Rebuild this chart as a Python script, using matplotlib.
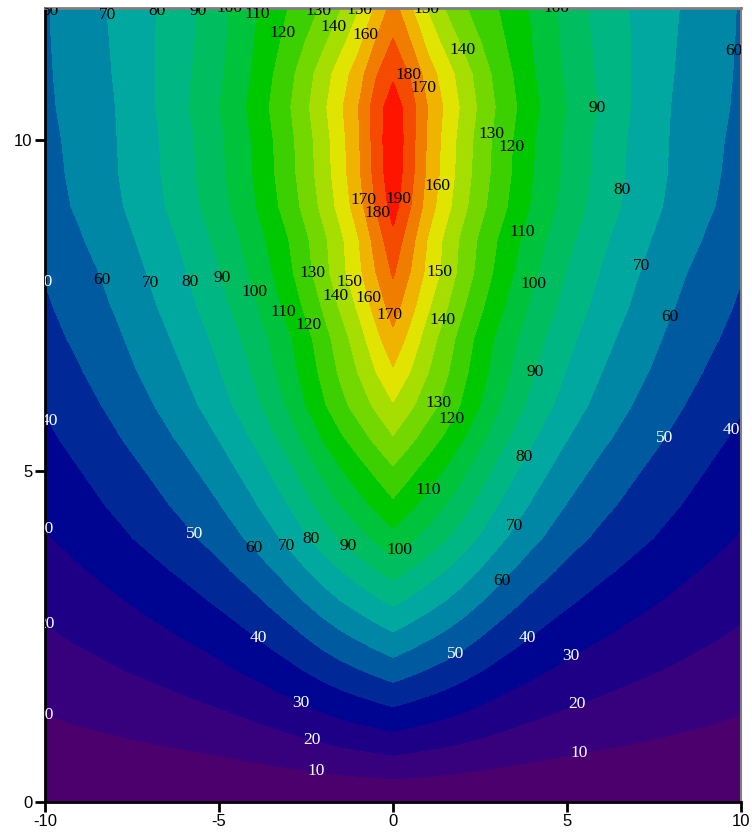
import numpy as np
import matplotlib
matplotlib.use("Agg")
import matplotlib.pyplot as plt

plt.rcParams['axes.unicode_minus'] = False

# ---- values: right half (x >= 0); the field is mirror-symmetric ----
x_half = [0, 0.5, 1, 1.5, 2, 2.5, 3, 3.5, 4, 5, 6, 7, 8, 9, 10]
y_vals = [0, 0.5, 1, 1.5, 2, 2.5, 3, 3.5, 4, 4.5, 5, 5.5, 6, 6.5,
          7, 7.5, 8, 8.5, 9, 9.5, 10, 10.5, 11, 11.5, 12]
z_rows = [
    [0, 0, 0, 0, 0, 0, 0, 0, 0, 0, 0, 0, 0, 0, 0],
    [14, 13.3, 12.6, 11.9, 11.1, 10.3, 9.5, 8.8, 8.2, 7.1, 6.2, 5.5, 4.9, 4.3, 3.8],
    [28, 26.6, 25.2, 23.8, 22.3, 20.6, 19.0, 17.6, 16.3, 14.1, 12.5, 11.1, 9.8, 8.7, 7.6],
    [41.5, 39.4, 37.4, 35.3, 33.0, 30.6, 28.2, 26.1, 24.2, 21.0, 18.5, 16.4, 14.5, 12.9, 11.3],
    [55, 52.3, 49.5, 46.8, 43.7, 40.5, 37.4, 34.7, 32.1, 27.8, 24.5, 21.7, 19.3, 17.1, 15.0],
    [68, 64.6, 61.2, 57.8, 54.1, 50.1, 46.2, 42.8, 39.6, 34.3, 30.3, 26.9, 23.8, 21.1, 18.6],
    [81, 77.0, 72.9, 68.9, 64.4, 59.7, 55.1, 51.0, 47.2, 40.9, 36.0, 32.0, 28.4, 25.1, 22.1],
    [94, 89.3, 84.6, 79.9, 74.7, 69.3, 63.9, 59.2, 54.8, 47.5, 41.8, 37.1, 32.9, 29.1, 25.7],
    [107, 101.7, 96.3, 91.0, 85.1, 78.9, 72.8, 67.4, 62.4, 54.0, 47.6, 42.3, 37.5, 33.2, 29.2],
    [118, 112.1, 106.2, 100.3, 93.8, 87.0, 80.2, 74.3, 68.8, 59.6, 52.5, 46.6, 41.3, 36.6, 32.2],
    [128, 121.6, 115.2, 108.8, 101.8, 94.3, 87.0, 80.6, 74.6, 64.6, 57.0, 50.6, 44.8, 39.7, 34.9],
    [139, 132.1, 125.1, 118.2, 110.5, 102.4, 94.5, 87.6, 81.0, 70.2, 61.9, 54.9, 48.7, 43.1, 37.9],
    [149, 141.6, 134.1, 126.7, 118.5, 109.8, 101.3, 93.9, 86.9, 75.2, 66.3, 58.9, 52.2, 46.2, 40.7],
    [158.5, 149.5, 140.1, 131.6, 122.5, 113.8, 105.2, 97.8, 90.8, 79.3, 69.9, 62.3, 55.3, 49.3, 43.7],
    [167, 156.3, 144.8, 135.3, 125.4, 116.6, 108.2, 100.9, 94.0, 82.5, 73.0, 65.1, 57.9, 51.9, 46.6],
    [174.5, 163.3, 151.3, 141.3, 131.0, 121.8, 113.1, 105.4, 98.2, 86.2, 76.3, 68.1, 60.6, 54.3, 48.7],
    [181, 169.4, 156.9, 146.6, 135.9, 126.3, 117.3, 109.3, 101.9, 89.4, 79.1, 70.6, 62.8, 56.3, 50.5],
    [187, 173.5, 159.0, 147.7, 137.4, 128.1, 119.7, 112.2, 104.7, 92.4, 81.7, 72.9, 65.5, 59.1, 53.9],
    [194, 180.0, 164.9, 153.3, 142.6, 132.9, 124.2, 116.4, 108.6, 95.8, 84.8, 75.7, 67.9, 61.3, 55.9],
    [197, 182.8, 167.5, 155.6, 144.8, 134.9, 126.1, 118.2, 110.3, 97.3, 86.1, 76.8, 69.0, 62.3, 56.7],
    [198, 183.7, 168.3, 156.4, 145.5, 135.6, 126.7, 118.8, 110.9, 97.8, 86.5, 77.2, 69.3, 62.6, 57.5],
    [196, 184.2, 169.3, 158.2, 147.6, 137.8, 128.6, 120.7, 112.7, 99.6, 88.4, 78.0, 69.7, 63.6, 58.2],
    [188, 178.6, 164.9, 154.9, 145.0, 135.4, 126.5, 118.8, 110.9, 98.1, 87.6, 78.4, 70.4, 63.9, 58.7],
    [180.5, 169.7, 156.3, 146.6, 137.7, 130.0, 122.9, 116.1, 109.6, 96.9, 86.6, 78.4, 70.9, 64.2, 59.0],
    [174, 161.0, 148.8, 139.2, 131.4, 125.3, 120.1, 114.0, 108.8, 96.2, 86.0, 78.4, 71.5, 64.6, 59.2],
]

levels = list(range(0, 210, 10))
x_ticks = [-10, -5, 0, 5, 10]
y_ticks = [0, 5, 10]

band_colors = [
    '#4B006E', '#37007D', '#1E0087', '#000591', '#002896',
    '#005AA0', '#0087A5', '#00A8A0', '#00B682', '#00BE5F',
    '#00C33C', '#00C800', '#3CD000', '#73D700', '#A5DE00',
    '#E1E400', '#F0B400', '#F07D00', '#F54B00', '#FF1400',
]

# approximate places of the contour labels (matplotlib snaps them onto the contours)
label_spots = {
    10: [(-2.2, 0.47), (5.35, 0.76), (-10, 1.3)],
    20: [(-2.3, 0.98), (5.3, 1.47), (-10, 2.68)],
    30: [(-2.6, 1.54), (5.1, 2.2), (-10, 4.16)],
    40: [(-3.9, 2.45), (3.9, 2.45), (9.8, 5.6), (-10, 5.72)],
    50: [(-5.7, 4.04), (1.75, 2.27), (7.8, 5.5), (-10, 7.9)],
    60: [(-4.0, 3.84), (3.1, 3.35), (7.9, 7.35), (-8.3, 7.9), (9.8, 11.35), (-9.9, 11.95)],
    70: [(-3.0, 3.9), (3.4, 4.2), (7.1, 8.1), (-6.95, 7.85), (-8.2, 11.9)],
    80: [(-2.2, 4.04), (3.8, 5.2), (6.47, 9.26), (-5.85, 7.85), (-6.84, 11.95)],
    90: [(-1.25, 3.9), (4.1, 6.5), (5.7, 10.5), (-5.0, 7.9), (-5.63, 11.95)],
    100: [(0.2, 3.8), (4.2, 7.8), (-4.0, 7.7), (-4.6, 12.0), (4.7, 12.0)],
    110: [(1.0, 4.72), (3.8, 8.6), (-3.2, 7.4), (-3.7, 11.9)],
    120: [(1.64, 5.81), (3.4, 9.9), (-2.5, 7.2), (-2.95, 11.6)],
    130: [(1.2, 6.04), (2.8, 10.1), (-2.35, 8.0), (-2.1, 11.95)],
    140: [(1.6, 7.25), (1.95, 11.35), (-1.65, 7.65), (-1.65, 11.7)],
    150: [(1.5, 8.0), (-1.3, 7.85), (-0.95, 11.97), (1.0, 12.0)],
    160: [(1.4, 9.3), (-0.8, 7.6), (-0.55, 11.55)],
    170: [(-0.2, 7.35), (-0.85, 9.1), (0.9, 10.8)],
    180: [(-0.5, 8.9), (0.5, 11.0)],
    190: [(0.3, 9.1)],
}

# ---- full grid: mirror the right half onto the left ----
half = np.array(z_rows, dtype=float)
xh = np.array(x_half, dtype=float)
x_full = np.concatenate([-xh[:0:-1], xh])
z_full = np.hstack([half[:, :0:-1], half])
X, Y = np.meshgrid(x_full, np.array(y_vals, dtype=float))

fig = plt.figure(figsize=(7.52, 8.39), dpi=100)
ax = fig.add_axes([45 / 752, 1 - 802 / 839, 696 / 752, 794 / 839])

cf = ax.contourf(X, Y, z_full, levels=levels, colors=band_colors)
cf.set_edgecolor('face')
cf.set_linewidth(0.6)

for lev, spots in label_spots.items():
    col = 'white' if lev <= 50 else 'black'
    cs = ax.contour(X, Y, z_full, levels=[lev], colors='k', linewidths=0)
    ax.clabel(cs, manual=spots, inline=False, fmt='%d', fontsize=12.5, colors=[col])
    for t in cs.labelTexts:
        t.set_rotation(0)
        t.set_fontfamily('Liberation Serif')
        t.set_clip_on(True)

ax.set_xlim(-10, 10)
ax.set_ylim(0, 12)
ax.set_xticks(x_ticks)
ax.set_yticks(y_ticks)
ax.set_xticklabels([str(v) for v in x_ticks])
ax.set_yticklabels([str(v) for v in y_ticks])
for lab in ax.get_xticklabels() + ax.get_yticklabels():
    lab.set_fontfamily('Liberation Sans')
    lab.set_fontsize(12)
ax.tick_params(direction='out', length=7, width=2, color='black', pad=2)
ax.spines['left'].set_linewidth(2)
ax.spines['bottom'].set_linewidth(2)
ax.spines['left'].set_color('black')
ax.spines['bottom'].set_color('black')
ax.spines['top'].set_color('#7f7f7f')
ax.spines['right'].set_color('#7f7f7f')
ax.spines['top'].set_linewidth(2)
ax.spines['right'].set_linewidth(1.5)

fig.savefig('out.png', dpi=100)
